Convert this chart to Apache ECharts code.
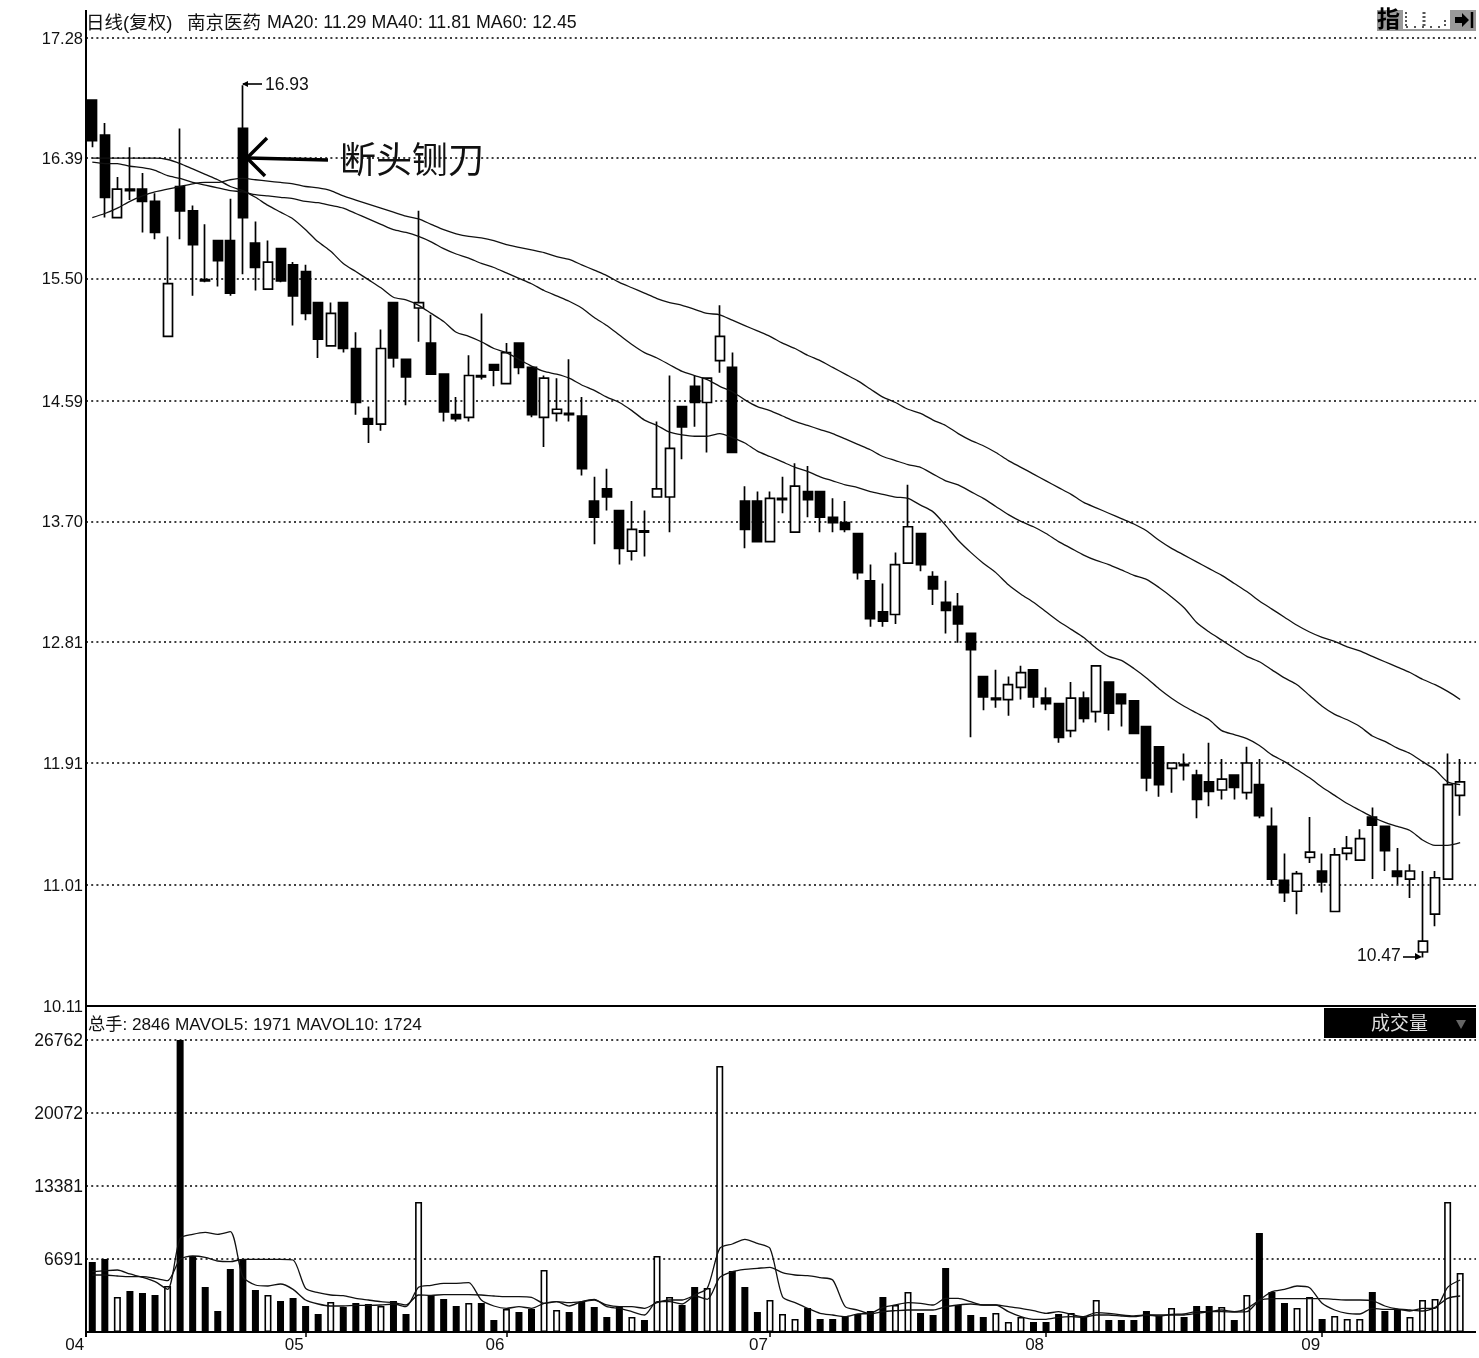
<!DOCTYPE html>
<html><head><meta charset="utf-8">
<script src="https://cdn.jsdelivr.net/npm/echarts@6/dist/echarts.min.js"></script>
<style>html,body{margin:0;padding:0;background:#fff}#c{width:1479px;height:1358px}</style>
</head><body><div id="c"></div>
<script>
const opens=[16.82,16.56,15.95,16.16,16.16,16.07,15.07,16.18,16.00,15.49,15.78,15.78,16.61,15.76,15.42,15.72,15.60,15.55,15.32,15.00,15.32,14.98,14.46,14.42,15.32,14.90,15.28,15.02,14.79,14.49,14.47,14.78,14.86,14.72,15.02,14.84,14.47,14.50,14.50,14.48,13.85,13.94,13.78,13.48,13.63,13.88,13.88,14.55,14.70,14.58,14.89,14.84,13.85,13.85,13.55,13.86,13.62,13.92,13.92,13.73,13.69,13.61,13.26,13.03,13.01,13.39,13.61,13.29,13.10,13.07,12.87,12.55,12.38,12.38,12.47,12.60,12.39,12.35,12.15,12.39,12.29,12.51,12.42,12.37,12.18,12.03,11.87,11.90,11.82,11.77,11.71,11.82,11.69,11.75,11.44,11.04,10.96,11.21,11.11,10.81,11.24,11.19,11.51,11.44,11.11,11.05,10.51,10.79,11.05,11.67];
const closes=[16.52,16.10,16.16,16.15,16.07,15.84,15.46,16.00,15.75,15.48,15.63,15.39,15.95,15.58,15.62,15.48,15.37,15.24,15.05,15.24,14.98,14.58,14.42,14.98,14.91,14.77,15.32,14.79,14.51,14.46,14.78,14.77,14.82,14.95,14.84,14.49,14.76,14.53,14.49,14.09,13.73,13.88,13.50,13.64,13.62,13.94,14.24,14.40,14.58,14.76,15.07,14.21,13.64,13.55,13.87,13.87,13.96,13.86,13.73,13.69,13.64,13.32,12.98,12.96,13.38,13.66,13.38,13.20,13.04,12.94,12.75,12.40,12.39,12.49,12.58,12.40,12.35,12.10,12.39,12.24,12.63,12.28,12.35,12.13,11.80,11.75,11.91,11.89,11.64,11.70,11.79,11.73,11.91,11.52,11.05,10.95,11.09,11.25,11.03,11.23,11.28,11.35,11.45,11.26,11.07,11.11,10.59,11.06,11.75,11.77];
const lows=[16.47,15.95,15.95,16.08,15.84,15.79,15.07,15.79,15.37,15.47,15.44,15.37,15.53,15.41,15.42,15.47,15.15,15.19,14.91,15.00,14.95,14.49,14.28,14.37,14.84,14.56,15.03,14.79,14.44,14.44,14.44,14.75,14.70,14.72,14.79,14.47,14.25,14.44,14.44,14.04,13.53,13.78,13.38,13.41,13.44,13.88,13.62,14.16,14.40,14.21,14.80,14.21,13.50,13.55,13.55,13.76,13.62,13.73,13.62,13.62,13.62,13.27,12.92,12.92,12.94,13.39,13.33,13.08,12.87,12.80,12.10,12.30,12.32,12.26,12.38,12.32,12.30,12.06,12.10,12.21,12.21,12.15,12.18,12.13,11.70,11.66,11.69,11.78,11.50,11.59,11.64,11.64,11.64,11.50,11.00,10.88,10.79,11.17,10.95,10.81,11.19,11.19,11.05,11.11,11.01,10.91,10.47,10.70,11.05,11.52];
const highs=[16.82,16.65,16.25,16.47,16.28,16.13,15.81,16.61,16.04,15.90,15.78,16.09,16.93,15.92,15.78,15.72,15.62,15.60,15.32,15.32,15.32,15.10,14.55,15.12,15.32,14.90,16.00,15.23,14.79,14.62,14.93,15.24,14.86,15.02,15.02,14.84,14.78,14.76,14.90,14.62,14.03,14.09,13.78,13.85,13.78,14.44,14.78,14.55,14.78,14.76,15.30,14.95,13.96,13.92,13.92,14.03,14.13,14.11,13.92,13.87,13.85,13.61,13.38,13.24,13.47,13.97,13.61,13.33,13.26,13.17,12.87,12.55,12.60,12.55,12.63,12.60,12.47,12.35,12.51,12.44,12.63,12.51,12.42,12.37,12.18,12.03,11.91,11.98,11.86,12.06,11.94,11.82,12.03,11.94,11.58,11.24,11.11,11.51,11.24,11.28,11.37,11.42,11.58,11.44,11.28,11.16,11.11,11.11,11.98,11.94];
const ma20=[16.39,16.39,16.39,16.39,16.39,16.39,16.38,16.35,16.31,16.27,16.23,16.18,16.15,16.10,16.04,15.99,15.94,15.86,15.77,15.70,15.61,15.55,15.49,15.43,15.36,15.34,15.30,15.24,15.18,15.10,15.07,15.03,14.98,14.95,14.90,14.85,14.81,14.79,14.76,14.71,14.67,14.62,14.58,14.52,14.45,14.41,14.36,14.34,14.33,14.33,14.35,14.32,14.28,14.22,14.18,14.14,14.10,14.07,14.03,14.00,13.97,13.95,13.92,13.90,13.88,13.87,13.82,13.77,13.67,13.56,13.47,13.39,13.32,13.23,13.16,13.10,13.03,12.96,12.90,12.84,12.76,12.70,12.67,12.61,12.54,12.46,12.39,12.33,12.28,12.23,12.15,12.12,12.09,12.04,11.97,11.92,11.86,11.80,11.73,11.67,11.61,11.56,11.51,11.47,11.44,11.41,11.34,11.30,11.30,11.32];
const ma40=[16.36,16.35,16.35,16.33,16.32,16.30,16.26,16.24,16.21,16.19,16.17,16.15,16.14,16.12,16.11,16.10,16.09,16.07,16.06,16.04,16.02,15.98,15.94,15.90,15.86,15.84,15.81,15.77,15.72,15.68,15.65,15.61,15.58,15.54,15.50,15.46,15.41,15.37,15.33,15.28,15.21,15.15,15.08,15.01,14.95,14.91,14.86,14.81,14.78,14.75,14.70,14.66,14.60,14.55,14.52,14.48,14.44,14.41,14.38,14.35,14.31,14.27,14.23,14.18,14.15,14.12,14.10,14.05,14.00,13.97,13.92,13.87,13.81,13.75,13.70,13.66,13.61,13.55,13.50,13.45,13.41,13.38,13.34,13.30,13.27,13.21,13.14,13.06,12.95,12.88,12.82,12.76,12.70,12.66,12.60,12.54,12.49,12.41,12.33,12.27,12.23,12.18,12.11,12.07,12.02,11.98,11.92,11.86,11.77,11.75];
const ma60=[15.95,15.98,16.02,16.07,16.11,16.14,16.16,16.18,16.20,16.21,16.21,16.23,16.24,16.23,16.22,16.21,16.20,16.18,16.17,16.15,16.11,16.08,16.05,16.02,15.99,15.96,15.94,15.90,15.86,15.83,15.81,15.80,15.78,15.75,15.73,15.71,15.69,15.66,15.64,15.60,15.56,15.52,15.47,15.43,15.39,15.35,15.32,15.30,15.27,15.24,15.23,15.19,15.15,15.11,15.07,15.02,14.98,14.93,14.89,14.84,14.79,14.74,14.68,14.62,14.58,14.53,14.50,14.45,14.41,14.35,14.30,14.26,14.21,14.15,14.10,14.05,14.00,13.95,13.90,13.84,13.80,13.76,13.72,13.68,13.63,13.56,13.50,13.45,13.40,13.35,13.30,13.24,13.18,13.11,13.05,12.99,12.93,12.88,12.84,12.81,12.77,12.74,12.70,12.66,12.62,12.58,12.53,12.49,12.44,12.38];
const volumes=[6415,6691,3208,3758,3574,3391,4216,26762,6965,4124,1925,5774,6691,3849,3391,2841,3116,2383,1650,2750,2291,2658,2566,2383,2841,1650,11915,3391,3024,2383,2658,2658,1100,2108,1833,2108,5682,2016,1833,2750,2291,1375,2291,1375,1100,6965,3208,2475,4124,4033,24379,5591,4124,1833,2933,1650,1191,2200,1191,1191,1375,1650,1925,3208,2475,3666,1741,1558,5866,2475,1558,1375,1741,917,1375,917,917,1650,1741,1375,2933,1100,1100,1100,1925,1466,2200,1375,2383,2383,2291,1100,3391,9073,3666,2658,2200,3208,1191,1466,1191,1191,3666,1925,2108,1375,2933,3024,11915,5407];
const mavol5=[5530,5621,5682,5316,5010,4613,3910,8585,8951,9134,8951,9196,5071,4308,4216,4399,3910,2933,2566,2383,2383,2444,2444,2475,2566,2322,4094,4277,4460,4460,4521,2933,2383,2169,2322,2169,2627,2780,2383,2780,2994,2322,2169,1864,1558,2780,2780,2566,3391,4002,7668,8065,8493,8126,7668,3238,2688,2169,1711,1558,1405,1650,1711,2261,2475,2688,2627,2475,3086,3086,2780,2475,2475,1864,1405,1161,1161,1344,1405,1344,1558,1558,1466,1405,1558,1558,1558,1558,1711,1864,2016,1864,2169,2933,3697,3910,4216,4063,2627,2016,1711,1650,2169,2077,2077,1925,2169,2169,4094,4766];
const mavol10=[5224,5224,5132,5071,5071,4919,4705,6660,6965,6843,6507,6446,6660,6660,6660,6660,6599,4002,3605,3391,3330,3086,2933,2780,2688,2475,3391,3361,3422,3422,3422,3391,3299,3238,3238,3177,2627,2780,2688,2780,2933,2475,2322,2322,2169,2688,2933,2933,3299,2994,5010,5530,5743,5835,5927,5438,5224,5163,4980,4766,2322,2016,1650,1864,1955,2016,2016,2016,2322,2475,2566,2475,2475,2322,2169,1955,1711,1864,1619,1405,1772,1711,1558,1466,1558,1466,1619,1650,1864,1864,1864,1833,1864,2872,3055,3055,3055,3055,3055,2994,2933,2933,2872,2383,2108,2016,1925,2261,3086,3299];
const priceTicks=[17.28,16.39,15.50,14.59,13.70,12.81,11.91,11.01,10.11];
const volumeTicks=[6691,13381,20072,26762];
const monthIndex=[0,17,33,54,76,98];
const monthNames=['04','05','06','07','08','09'];
const titleText='日线(复权)';
const stockText='南京医药';
const maText='MA20: 11.29 MA40: 11.81 MA60: 12.45';
const volumeText='总手: 2846 MAVOL5: 1971 MAVOL10: 1724';

const FONT="'Liberation Sans','Noto Sans CJK SC',sans-serif";
const categories=Array.from({length:opens.length+1},(_,i)=>String(i));
const candles=opens.map((o,i)=>[o,closes[i],lows[i],highs[i]]);
const dotted={color:'#000',width:1.5,type:[2,3.2]};
const monthAt=i=>monthIndex.indexOf(Number(i));
const isUp=i=>closes[i]>opens[i];
const txt=(x,y,text,size,extra)=>({type:'text',x,y,z:50,style:Object.assign({text,fill:'#111',font:size+'px '+FONT,textVerticalAlign:'middle'},extra||{})});
const seg=(x1,y1,x2,y2,w,c,dash)=>({type:'line',z:50,shape:{x1,y1,x2,y2},style:{stroke:c||'#000',lineWidth:w||1.5,lineDash:dash||null}});
const maLine=(name,data,x,y)=>({name,type:'line',data,xAxisIndex:x,yAxisIndex:y,showSymbol:false,symbol:'none',smooth:0.25,lineStyle:{color:'#111',width:1.3},z:5,silent:true});

const chart=echarts.init(document.getElementById('c'),null,{renderer:'canvas'});
chart.setOption({
  animation:false,backgroundColor:'#fff',
  grid:[{left:86,top:38,width:1393,height:968},{left:86,top:1040,width:1393,height:292}],
  xAxis:[
    {type:'category',gridIndex:0,data:categories,boundaryGap:true,axisLine:{show:true,onZero:false,lineStyle:{color:'#000',width:2}},axisTick:{show:false},axisLabel:{show:false},splitLine:{show:false}},
    {type:'category',gridIndex:1,data:categories,boundaryGap:true,axisLine:{show:true,onZero:false,lineStyle:{color:'#000',width:2}},
     axisTick:{show:true,alignWithLabel:true,length:5,lineStyle:{color:'#000',width:1.5},interval:i=>monthAt(i)>0},
     axisLabel:{show:true,interval:i=>monthAt(i)>=0,color:'#111',fontFamily:FONT,fontSize:17,align:'right',margin:5,hideOverlap:false,
       formatter:v=>{const k=monthAt(v);return k===0?'{a|'+monthNames[k]+'}':'{b|'+monthNames[k]+'}';},
       rich:{a:{fontFamily:FONT,fontSize:17,color:'#111',padding:[0,8,0,0]},b:{fontFamily:FONT,fontSize:17,color:'#111',padding:[0,2,0,0]}}},
     splitLine:{show:false}}
  ],
  yAxis:[
    {type:'value',gridIndex:0,min:10.11,max:17.28,position:'left',axisLine:{show:false},
     axisTick:{show:false,customValues:priceTicks},
     axisLabel:{customValues:priceTicks,formatter:v=>'{p|'+v.toFixed(2)+'}',margin:3,
       rich:{p:{color:'#111',fontFamily:FONT,fontSize:16.5,padding:[3,0,0,0]}}},
     splitLine:{show:true,lineStyle:dotted}},
    {type:'value',gridIndex:1,min:0,max:26762,position:'left',axisLine:{show:false},
     axisTick:{show:false,customValues:volumeTicks},
     axisLabel:{customValues:volumeTicks,formatter:v=>'{p|'+v+'}',margin:3,
       rich:{p:{color:'#111',fontFamily:FONT,fontSize:17.5,padding:[2,0,0,0]}}},
     splitLine:{show:true,lineStyle:dotted}}
  ],
  series:[
    {name:'K',type:'candlestick',xAxisIndex:0,yAxisIndex:0,data:candles,barWidth:9.5,z:3,silent:true,
     itemStyle:{color:'#fff',color0:'#000',borderColor:'#000',borderColor0:'#000',borderWidth:1.7}},
    maLine('MA20',ma20,0,0),maLine('MA40',ma40,0,0),maLine('MA60',ma60,0,0),
    {name:'VOL',type:'bar',xAxisIndex:1,yAxisIndex:1,barWidth:7,z:3,silent:true,
     data:volumes.map((v,i)=>({value:v,itemStyle:isUp(i)?{color:'#fff',borderColor:'#000',borderWidth:1.6}:{color:'#000',borderColor:'#000',borderWidth:1.6}}))},
    maLine('MAVOL5',mavol5,1,1),maLine('MAVOL10',mavol10,1,1)
  ],
  graphic:{elements:[
    {type:'rect',z:40,shape:{x:1476,y:0,width:3,height:1358},style:{fill:'#fff'}},
    seg(86,10,86,1337,2),
    txt(86,23.5,titleText,18.5),
    txt(187,23.5,stockText,18.5),
    txt(267,23.5,maText,17.8),
    txt(88,1025.5,volumeText,17.2),
    seg(243,84,262,84,1.6),
    {type:'polygon',z:50,shape:{points:[[242,84],[248,81],[248,87]]},style:{fill:'#000'}},
    txt(265,85,'16.93',17.5),
    txt(1357,956.5,'10.47',17.5),
    seg(1403,957,1420,957,1.6),
    {type:'polygon',z:50,shape:{points:[[1422,957],[1415,953],[1415,960]]},style:{fill:'#000'}},
    {type:'polyline',z:50,shape:{points:[[267,138],[247,158],[265,176]]},style:{stroke:'#000',fill:null,lineWidth:3.5}},
    seg(248,158,328,160,3.5),
    txt(340,163,'断头铡刀',36,{fill:'#111'}),
    {type:'rect',z:45,shape:{x:1324,y:1008,width:152,height:30},style:{fill:'#000'}},
    txt(1371,1025,'成交量',19,{fill:'#ddd'}),
    {type:'polygon',z:50,shape:{points:[[1456,1020],[1466,1020],[1461,1029]]},style:{fill:'#666'}},
    {type:'rect',z:45,shape:{x:1377,y:10,width:99,height:21},style:{fill:'#9a9a9a'}},
    {type:'rect',z:46,shape:{x:1403,y:10,width:47,height:19},style:{fill:'#fff'}},
    txt(1377,21,'指',23,{fill:'#000',font:'bold 23px '+FONT}),
    seg(1406,12,1406,27,2,'#555',[2,2]),seg(1424,12,1424,27,3,'#555',[2,2]),seg(1445,20,1445,28,2,'#555',[2,2]),seg(1406,27,1445,27,2,'#555',[2,6]),
    {type:'polygon',z:50,shape:{points:[[1455,17],[1462,17],[1462,13],[1469,20],[1462,27],[1462,23],[1455,23]]},style:{fill:'#000'}},
    seg(1472,12,1472,28,2.5)
  ]}
});
</script></body></html>
